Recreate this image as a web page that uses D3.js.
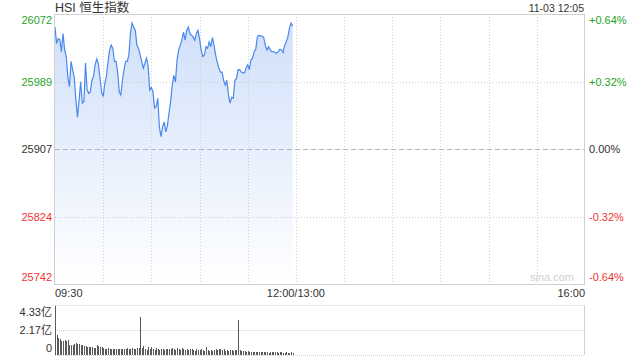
<!DOCTYPE html>
<html>
<head>
<meta charset="utf-8">
<script src="https://cdn.jsdelivr.net/npm/d3@7"></script>
<style>
  body { margin: 0; background: #fff; }
  svg { display: block; font-family: "Liberation Sans", Arial, "Noto Sans CJK SC", sans-serif; }
</style>
</head>
<body>
<svg width="640" height="360"></svg>
<script>
// HSI minute prices from 09:30, one per minute
var prices = [26056, 26036, 26042, 26041, 26026, 26048, 26028, 26020, 25995, 25983,
  26014, 26004, 25994, 25967, 25946, 25967, 25989, 25963, 25965, 26012,
  25979, 25975, 25977, 25991, 25996, 26010, 26017, 26011, 25994, 25977,
  25971, 25987, 25996, 26013, 26028, 26034, 26030, 26014, 26014, 26001,
  25977, 25973, 25991, 26004, 26014, 26014, 26022, 26049, 26061, 26056,
  26052, 26034, 26030, 26022, 26014, 26006, 26012, 26018, 26008, 25979,
  25982, 25977, 25957, 25959, 25969, 25934, 25922, 25934, 25940, 25928,
  25936, 25951, 25965, 25985, 25997, 25989, 26016, 26028, 26034, 26040,
  26050, 26040, 26052, 26056, 26048, 26046, 26044, 26040, 26048, 26052,
  26042, 26028, 26020, 26022, 26032, 26030, 26038, 26032, 26043, 26034,
  26022, 26013, 26006, 26001, 26001, 25991, 25985, 25991, 25973, 25963,
  25970, 25969, 25991, 25993, 26004, 26004, 26001, 26000, 26000, 26006,
  26010, 26004, 26016, 26018, 26026, 26029, 26044, 26046, 26045, 26045,
  26043, 26033, 26028, 26032, 26028, 26026, 26026, 26025, 26024, 26026,
  26029, 26028, 26025, 26034, 26038, 26044, 26055, 26061, 26057];

// volume per minute, 亿
var volumes = [4.25,
  1.75, 1.5, 1.35, 1.25, 1.2, 1.3, 1.22, 1.28, 0.9, 0.85,
  0.85, 0.92, 1.05, 0.98, 0.95, 0.88, 0.9, 0.82, 0.8, 0.72,
  0.68, 0.65, 0.72, 0.63, 0.62, 0.88, 0.78, 0.7, 0.68, 0.6,
  0.52, 0.55, 0.58, 0.5, 0.55, 0.52, 0.5, 0.55, 0.48, 0.56,
  0.5, 0.52, 0.55, 0.5, 0.58, 0.52, 0.55, 0.6, 0.5, 0.55, 0.58, 0.62,
  3.32,
  0.6, 0.75, 0.5, 0.45, 0.65, 0.55, 0.72, 0.5, 0.4, 0.58, 0.52, 0.45, 0.55, 0.5, 0.42, 0.55, 0.5,
  0.48, 0.52, 0.6, 0.5, 0.45, 0.58, 0.5, 0.42, 0.62, 0.48, 0.4, 0.52, 0.45, 0.55, 0.5, 0.42, 0.38, 0.5, 0.45, 0.4,
  0.55, 0.42, 0.38, 0.65, 0.4, 0.35, 0.42, 0.38, 0.45, 0.5, 0.42, 0.55, 0.48, 0.4, 0.5, 0.38, 0.42, 0.35, 0.45, 0.4, 0.38, 0.42, 0.45,
  3.0,
  0.4, 0.38, 0.32, 0.35, 0.3, 0.33, 0.28, 0.3, 0.25, 0.3, 0.28, 0.22, 0.3, 0.25, 0.28, 0.22, 0.26, 0.3, 0.2, 0.25,
  0.28, 0.22, 0.3, 0.25, 0.2, 0.22, 0.26, 0.2, 0.18, 0.22, 0.2, 0.18, 0.22, 0.2];

var prevClose = 25907;
var priceTicks = [26072, 25989, 25907, 25824, 25742];
var pctTicks = ['+0.64%', '+0.32%', '0.00%', '-0.32%', '-0.64%'];
var volTicks = [4.33, 2.17, 0];
var volTickLabels = ['4.33亿', '2.17亿', '0'];
var timeLabels = ['09:30', '12:00/13:00', '16:00'];
var timeLabelMinutes = [0, 150, 330];
var totalMinutes = 330;

var svg = d3.select('svg');

var plotLeft = 55, plotRight = 585, plotTop = 14, plotBottom = 284;
var volTop = 305, volBottom = 355;

var x = d3.scaleLinear().domain([0, totalMinutes]).range([plotLeft, plotRight]);
var y = d3.scaleLinear().domain([25742, 26072]).range([plotBottom, plotTop]);
var yv = d3.scaleLinear().domain([0, 4.33]).range([volBottom, volTop]);

var green = '#1fa51f', red = '#f03535', dark = '#333';
function tickColor(v) {
    if (v > prevClose) return green;
    if (v < prevClose) return red;
    return dark;
}

// gradient fill
var grad = svg.append('defs').append('linearGradient')
    .attr('id', 'fillGrad')
    .attr('x1', 0).attr('y1', 0).attr('x2', 0).attr('y2', 1);
grad.append('stop').attr('offset', '0%').attr('stop-color', '#d0e0fa');
grad.append('stop').attr('offset', '100%').attr('stop-color', '#ffffff');

// title
svg.append('text')
    .attr('x', plotLeft).attr('y', 12)
    .attr('font-size', 12.5)
    .attr('fill', dark)
    .text('HSI 恒生指数');

svg.append('text')
    .attr('x', plotRight - 1).attr('y', 12)
    .attr('text-anchor', 'end')
    .attr('font-size', 10.5)
    .attr('fill', dark)
    .text('11-03 12:05');

// area + line
var area = d3.area()
    .x(function(d, i){ return x(i); })
    .y0(plotBottom)
    .y1(function(d){ return y(d); });

svg.append('path')
    .datum(prices)
    .attr('d', area)
    .attr('fill', 'url(#fillGrad)');

// vertical grid every 30 min
var vgrid = d3.range(30, totalMinutes, 30);
svg.selectAll('.vgrid')
    .data(vgrid)
    .enter()
    .append('line')
    .attr('x1', function(d){ return Math.round(x(d)) + 0.5; })
    .attr('x2', function(d){ return Math.round(x(d)) + 0.5; })
    .attr('y1', plotTop)
    .attr('y2', plotBottom)
    .attr('stroke', '#cfcfcf')
    .attr('stroke-dasharray', '1,2');

// horizontal grid
svg.selectAll('.hgrid')
    .data(priceTicks.slice(1, 4))
    .enter()
    .append('line')
    .attr('x1', plotLeft)
    .attr('x2', plotRight)
    .attr('y1', function(d){ return Math.round(y(d)) + 0.5; })
    .attr('y2', function(d){ return Math.round(y(d)) + 0.5; })
    .attr('stroke', function(d){ return d === prevClose ? '#b5b5b5' : '#cfcfcf'; })
    .attr('stroke-dasharray', function(d){ return d === prevClose ? '5,3' : '1,2'; });

var line = d3.line()
    .x(function(d, i){ return x(i); })
    .y(function(d){ return y(d); });

svg.append('path')
    .datum(prices)
    .attr('d', line)
    .attr('fill', 'none')
    .attr('stroke', '#4a88ee')
    .attr('stroke-width', 1.2);

// frame
svg.append('rect')
    .attr('x', plotLeft - 0.5).attr('y', plotTop + 0.5)
    .attr('width', plotRight - plotLeft).attr('height', plotBottom - plotTop)
    .attr('fill', 'none')
    .attr('stroke', '#d0d0d0');

// price labels left
svg.selectAll('.plabel')
    .data(priceTicks)
    .enter()
    .append('text')
    .attr('x', plotLeft - 3)
    .attr('y', function(d, i){
        var yy = y(d);
        if (i === 0) yy += 6;
        if (i === priceTicks.length - 1) yy -= 7;
        return yy + 4;
    })
    .attr('text-anchor', 'end')
    .attr('font-size', 11)
    .attr('fill', function(d){ return tickColor(d); })
    .text(function(d){ return d; });

// percent labels right
svg.selectAll('.pct')
    .data(priceTicks)
    .enter()
    .append('text')
    .attr('x', plotRight + 4)
    .attr('y', function(d, i){
        var yy = y(d);
        if (i === 0) yy += 6;
        if (i === priceTicks.length - 1) yy -= 7;
        return yy + 4;
    })
    .attr('font-size', 11)
    .attr('fill', function(d){ return tickColor(d); })
    .text(function(d, i){ return pctTicks[i]; });

// watermark
svg.append('text')
    .attr('x', plotRight - 11).attr('y', plotBottom - 3)
    .attr('text-anchor', 'end')
    .attr('font-size', 11)
    .attr('fill', '#cfcfcf')
    .text('sina.com');

// time labels
svg.selectAll('.tlabel')
    .data(timeLabels)
    .enter()
    .append('text')
    .attr('x', function(d, i){ return x(timeLabelMinutes[i]); })
    .attr('y', plotBottom + 13)
    .attr('text-anchor', function(d, i){
        if (i === 0) return 'start';
        if (i === timeLabels.length - 1) return 'end';
        return 'middle';
    })
    .attr('font-size', 11)
    .attr('fill', dark)
    .text(function(d){ return d; });

// volume grid
svg.selectAll('.vline')
    .data(volTicks)
    .enter()
    .append('line')
    .attr('x1', plotLeft)
    .attr('x2', plotRight)
    .attr('y1', function(d){ return Math.round(yv(d)) + 0.5; })
    .attr('y2', function(d){ return Math.round(yv(d)) + 0.5; })
    .attr('stroke', '#cfcfcf')
    .attr('stroke-dasharray', '1,1');

svg.append('line')
    .attr('x1', plotRight - 0.5).attr('x2', plotRight - 0.5)
    .attr('y1', volTop).attr('y2', volBottom)
    .attr('stroke', '#d0d0d0');

svg.selectAll('.vlabel')
    .data(volTicks)
    .enter()
    .append('text')
    .attr('x', plotLeft - 3)
    .attr('y', function(d, i){
        var yy = yv(d);
        if (i === 0) yy += 7;
        if (i === volTicks.length - 1) yy -= 7;
        return yy + 4;
    })
    .attr('text-anchor', 'end')
    .attr('font-size', 11)
    .attr('fill', dark)
    .text(function(d, i){ return volTickLabels[i]; });

// volume bars
svg.selectAll('.vbar')
    .data(volumes)
    .enter()
    .append('rect')
    .attr('x', function(d, i){ return Math.round(x(i)); })
    .attr('y', function(d){ return yv(d); })
    .attr('width', 1)
    .attr('height', function(d){ return volBottom - yv(d); })
    .attr('fill', '#5a5a5a')
    .attr('shape-rendering', 'crispEdges');
</script>
</body>
</html>
